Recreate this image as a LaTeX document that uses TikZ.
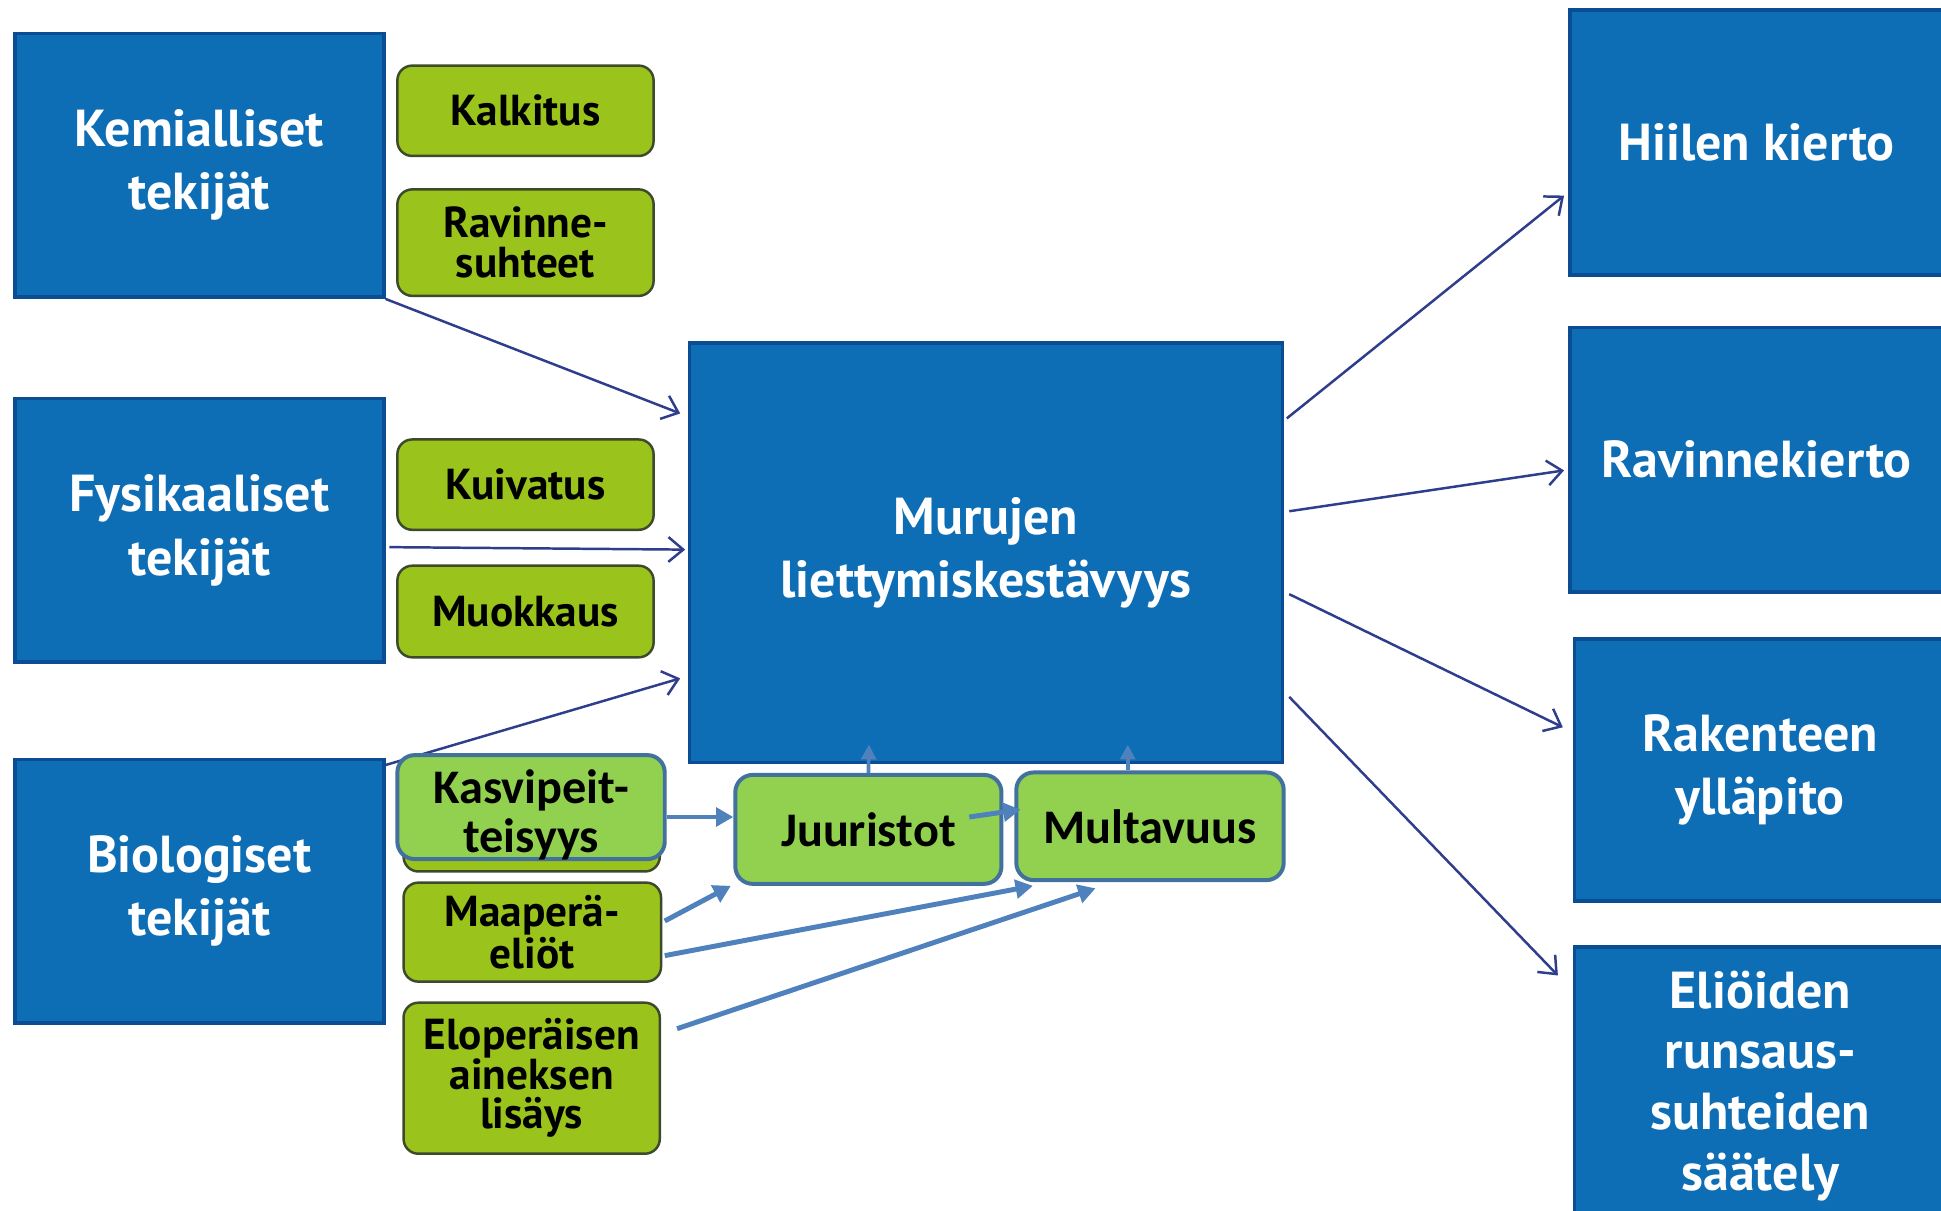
\documentclass[tikz,border=0pt]{standalone}
\usepackage{fontspec}
\setmainfont{PT Sans}
\newfontfamily\calfont{Carlito}
\usetikzlibrary{arrows.meta}
\definecolor{blueF}{HTML}{0D6DB5}
\definecolor{blueD}{HTML}{0A4D92}
\definecolor{oliveF}{HTML}{9AC41C}
\definecolor{oliveD}{HTML}{3D4A2C}
\definecolor{brightF}{HTML}{92D050}
\definecolor{brightD}{HTML}{41719C}
\definecolor{darkA}{HTML}{2E3D8C}
\definecolor{lightA}{HTML}{4F81BD}
\tikzset{
  bluebox/.style={rectangle, fill=blueF, draw=blueD, line width=1.5pt, text=white,
    minimum width=149pt, minimum height=106.5pt, align=center, inner sep=0pt,
    font={\fontsize{21}{25.5}\selectfont\bfseries}},
  olivebox/.style={rectangle, rounded corners=6pt, fill=oliveF, draw=oliveD, line width=1pt,
    text=black, minimum width=103.5pt, align=center, inner sep=0pt,
    font={\fontsize{17.5}{16}\selectfont\bfseries}},
  brightbox/.style={rectangle, rounded corners=7pt, fill=brightF, draw=brightD, line width=1.6pt,
    text=black, minimum width=108pt, minimum height=43pt, align=center, inner sep=0pt,
    font={\calfont\fontsize{19.5}{22.5}\selectfont\bfseries}},
  darkarrow/.style={draw=darkA, line width=1pt, -{Straight Barb[length=6pt,width=10pt]}},
  lightarrow/.style={draw=lightA, line width=2pt, -{Triangle[length=7pt,width=7.5pt]}},
  uparrow/.style={draw=lightA, line width=1.5pt, -{Triangle[length=6pt,width=6pt]}}
}
\begin{document}
\begin{tikzpicture}[x=0.5pt,y=-0.5pt]
\fill[white] (0,0) rectangle (1568,978);
\useasboundingbox (0,0) rectangle (1568,978);

% left blue boxes
\node[bluebox] (kem) at (161,133.5) {Kemialliset\\tekijät};
\node[bluebox] (fys) at (161,428.5) {Fysikaaliset\\tekijät};
\node[bluebox] (bio) at (161,720) {Biologiset\\tekijät};

% centre
\node[bluebox, minimum width=239.5pt, minimum height=169.5pt] (muru) at (796.5,446.5) {Murujen\\liettymiskestävyys};

% right blue boxes
\node[bluebox, minimum width=151pt, minimum height=107pt] (hiil) at (1419,115) {Hiilen kierto};
\node[bluebox, minimum width=151pt, minimum height=107pt] (rav) at (1419,371.5) {Ravinnekierto};
\node[bluebox, minimum width=150pt, minimum height=106pt] (rak) at (1422,622) {Rakenteen\\ylläpito};
\node[bluebox, minimum width=150pt, minimum height=112pt, font={\fontsize{21}{24.5}\selectfont\bfseries}] (eli) at (1422,877) {Eliöiden\\runsaus-\\suhteiden\\säätely};

% olive boxes
\node[olivebox, minimum height=36.5pt] (kalk) at (424.5,89.5) {Kalkitus};
\node[olivebox, minimum height=43pt] (ravs) at (424.5,196) {Ravinne-\\suhteet};
\node[olivebox, minimum height=36.5pt] (kuiv) at (424.5,391.5) {Kuivatus};
\node[olivebox, minimum height=37pt] (muok) at (424.5,494) {Muokkaus};
\node[olivebox, minimum height=32pt, minimum width=103.5pt] (hid) at (429.5,672) {};
\node[olivebox, minimum width=104pt, minimum height=40pt] (maap) at (430,753) {Maaperä-\\eliöt};
\node[olivebox, minimum width=103.5pt, minimum height=61pt] (elop) at (429.5,871) {Eloperäisen\\aineksen\\lisäys};

% dark arrows
\draw[darkarrow] (kem.south east) -- ([xshift=-3pt,yshift=56.25pt]muru.west);
\draw[darkarrow] ([xshift=1.5pt,yshift=-6.75pt]fys.east) -- ([xshift=-1pt,yshift=1.25pt]muru.west);
\draw[darkarrow] ([yshift=-3pt]bio.north east) -- ([xshift=-3pt,yshift=-50.75pt]muru.west);
\draw[darkarrow] ([xshift=1pt,yshift=54.25pt]muru.east) -- ([xshift=-1.5pt,yshift=-21.5pt]hiil.west);
\draw[darkarrow] ([xshift=2pt,yshift=16.75pt]muru.east) -- ([xshift=-1.5pt,yshift=-4.25pt]rav.west);
\draw[darkarrow] ([xshift=2pt,yshift=-16.75pt]muru.east) -- ([xshift=-4pt,yshift=17.25pt]rak.west);
\draw[darkarrow] ([xshift=2pt,yshift=-58.25pt]muru.east) -- ([xshift=-6pt,yshift=44.5pt]eli.west);

% bright green boxes
\node[brightbox, minimum height=42pt, text depth=0pt] (kasv) at (429,652) {\raisebox{-3pt}{\shortstack{Kasvipeit-\\teisyys}}};
\node[brightbox, minimum width=107.5pt, minimum height=44pt] (juur) at (701.5,670) {Juuristot};
\node[brightbox, minimum height=43.5pt] (mult) at (929,667.5) {Multavuus};

% light arrows
\draw[lightarrow] ([yshift=-4pt]kasv.east) -- ([yshift=5pt]juur.west);
\draw[lightarrow] ([xshift=40.75pt,yshift=5pt]juur.center) -- ([xshift=2.5pt,yshift=6.75pt]mult.west);
\draw[lightarrow] ([xshift=1pt,yshift=4.5pt]maap.east) -- ([xshift=-1pt]juur.south west);
\draw[lightarrow] ([xshift=1pt,yshift=-9.5pt]maap.east) -- ([xshift=7.5pt,yshift=-1.5pt]mult.south west);
\draw[lightarrow] ([xshift=6.5pt,yshift=20pt]elop.east) -- ([xshift=-22pt,yshift=-2.5pt]mult.south);
\draw[uparrow] (juur.north) -- ([xshift=-47.25pt,yshift=8pt]muru.south);
\draw[uparrow] ([xshift=-9pt]mult.north) -- ([xshift=57.25pt,yshift=8pt]muru.south);
\end{tikzpicture}
\end{document}
